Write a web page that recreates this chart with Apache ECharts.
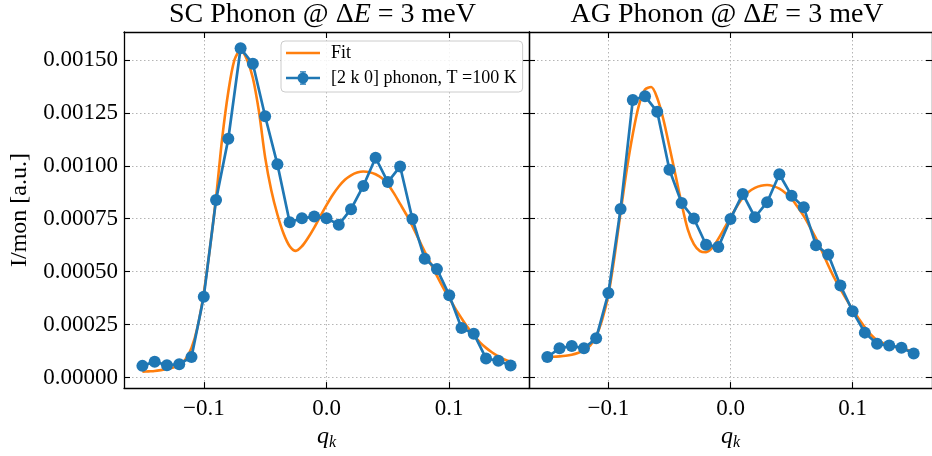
<!DOCTYPE html>
<html><head><meta charset="utf-8">
<script src="https://cdn.jsdelivr.net/npm/echarts@6/dist/echarts.min.js"></script>
<style>html,body{margin:0;padding:0;background:#fff}#c{width:932px;height:456px}</style>
</head><body><div id="c"></div>
<script>
// ---------- data ----------
const qPoints = [-0.15,-0.14,-0.13,-0.12,-0.11,-0.10,-0.09,-0.08,-0.07,-0.06,-0.05,-0.04,-0.03,-0.02,-0.01,0.00,
                 0.01,0.02,0.03,0.04,0.05,0.06,0.07,0.08,0.09,0.10,0.11,0.12,0.13,0.14,0.15];
const scValues = [0.000055,0.000075,0.000058,0.000063,0.000097,0.000382,0.000839,0.001128,0.001555,0.001482,0.001234,
                  0.001007,0.000733,0.000752,0.000760,0.000752,0.000722,0.000795,0.000905,0.001038,0.000923,0.000997,
                  0.000749,0.000561,0.000512,0.000389,0.000234,0.000207,0.000090,0.000079,0.000057];
const agValues = [0.000097,0.000138,0.000149,0.000138,0.000185,0.000399,0.000796,0.001311,0.001329,0.001255,0.000981,
                  0.000824,0.000751,0.000627,0.000616,0.000749,0.000867,0.000757,0.000828,0.000960,0.000859,0.000804,
                  0.000625,0.000581,0.000435,0.000313,0.000212,0.000159,0.000151,0.000141,0.000113];
// fit curves read every 0.005 in q
const fitQ = [-0.15,-0.145,-0.14,-0.135,-0.13,-0.125,-0.12,-0.115,-0.11,-0.105,-0.10,-0.095,-0.09,-0.085,-0.08,-0.075,
              -0.07,-0.065,-0.06,-0.055,-0.05,-0.045,-0.04,-0.035,-0.03,-0.025,-0.02,-0.015,-0.01,-0.005,0.0,
              0.005,0.01,0.015,0.02,0.025,0.03,0.035,0.04,0.045,0.05,0.055,0.06,0.065,0.07,0.075,0.08,
              0.085,0.09,0.095,0.10,0.105,0.11,0.115,0.12,0.125,0.13,0.135,0.14,0.145,0.15];
const scFitValues = [0.000027,0.000029,0.000031,0.000035,0.000040,0.000047,0.000058,0.000085,0.000140,0.000240,0.000400,
                     0.000610,0.000850,0.001130,0.001350,0.001500,0.001545,0.001505,0.001415,0.001255,0.001040,0.000885,
                     0.000770,0.000680,0.000620,0.000598,0.000620,0.000660,0.000708,0.000762,0.000814,
                     0.000862,0.000902,0.000934,0.000955,0.000968,0.000973,0.000970,0.000960,0.000942,0.000912,0.000870,
                     0.000820,0.000770,0.000715,0.000655,0.000595,
                     0.000537,0.000480,0.000425,0.000375,0.000325,0.000280,0.000237,0.000200,0.000166,0.000140,0.000118,
                     0.000100,0.000085,0.000074];
const agFitValues = [0.000097,0.000098,0.000100,0.000103,0.000108,0.000116,0.000128,0.000150,0.000195,0.000275,0.000390,
                     0.000570,0.000780,0.000980,0.001150,0.001285,0.001360,0.001372,0.001320,0.001220,0.001090,0.000955,
                     0.000820,0.000700,0.000630,0.000597,0.000592,0.000612,0.000655,0.000705,0.000757,
                     0.000806,0.000848,0.000878,0.000896,0.000906,0.000909,0.000904,0.000892,0.000872,0.000845,0.000805,
                     0.000762,0.000712,0.000657,0.000595,0.000530,
                     0.000470,0.000418,0.000368,0.000320,0.000278,0.000237,0.000202,0.000176,0.000162,0.000152,0.000144,
                     0.000137,0.000130,0.000122];
const xTicks = [-0.1, 0.0, 0.1];
const yTicks = [0, 0.00025, 0.0005, 0.00075, 0.001, 0.00125, 0.0015];
const panelTitles = ['SC Phonon @ ', 'AG Phonon @ '];
const fitName = 'Fit';
const dataName = '[2 k 0] phonon, T =100 K';

// ---------- chart ----------
const FONT = "'Liberation Serif', 'Times New Roman', serif";
const pairs = (xs, ys) => xs.map((x, i) => [x, ys[i]]);
const xFmt = v => (v < -1e-9 ? '\u2212' : '') + Math.abs(v).toFixed(1);
const yFmt = v => v.toFixed(5);
const grids = [
  {left: 124, top: 32, width: 405, height: 358},
  {left: 529, top: 32, width: 404, height: 358}
];
const XMIN = -0.165, XMAX = 0.165, YMIN = -0.00005, YMAX = 0.001632;
const frame = {show: true, onZero: false, lineStyle: {color: '#000', width: 1.3}};
const tick = vals => ({show: true, inside: true, length: 6, customValues: vals, lineStyle: {color: '#000', width: 1.1}});
const split = {show: true, lineStyle: {type: [1.5, 2.5], color: '#b5b5b5', width: 1}};

const xAxes = [], yAxes = [];
[0, 1].forEach(g => {
  xAxes.push({type: 'value', gridIndex: g, position: 'bottom', min: XMIN, max: XMAX,
    axisLine: frame, axisTick: tick(xTicks), splitLine: split,
    axisLabel: {customValues: xTicks, formatter: xFmt, margin: 9, fontFamily: FONT, fontSize: 23, color: '#000'},
    name: '{q|q}{k|k}', nameLocation: 'middle', nameGap: 34,
    nameTextStyle: {rich: {
      q: {fontFamily: FONT, fontSize: 24, fontStyle: 'italic', color: '#000'},
      k: {fontFamily: FONT, fontSize: 16, fontStyle: 'italic', color: '#000', padding: [12, 0, 0, 0]}
    }}
  });
  xAxes.push({type: 'value', gridIndex: g, position: 'top', min: XMIN, max: XMAX,
    axisLine: frame, axisTick: tick(xTicks), splitLine: {show: false}, axisLabel: {show: false}});
  yAxes.push({type: 'value', gridIndex: g, position: 'left', min: YMIN, max: YMAX,
    axisLine: frame, axisTick: tick(yTicks), splitLine: split,
    axisLabel: {show: g === 0, customValues: yTicks, formatter: yFmt, margin: 6, fontFamily: FONT, fontSize: 23, color: '#000'},
    name: g === 0 ? 'I/mon [a.u.]' : '', nameLocation: 'middle', nameGap: 92, nameRotate: 90,
    nameTextStyle: {fontFamily: FONT, fontSize: 24, color: '#000'}
  });
  yAxes.push({type: 'value', gridIndex: g, position: 'right', min: YMIN, max: YMAX,
    axisLine: frame, axisTick: tick(yTicks), splitLine: {show: false}, axisLabel: {show: false}});
});

const series = [];
[[scFitValues, scValues], [agFitValues, agValues]].forEach((d, g) => {
  series.push({type: 'line', name: fitName, xAxisIndex: 2 * g, yAxisIndex: 2 * g,
    data: pairs(fitQ, d[0]), symbol: 'none', smooth: 0.3, z: 3,
    color: '#ff7f0e', lineStyle: {color: '#ff7f0e', width: 2.6}});
  series.push({type: 'line', name: dataName, xAxisIndex: 2 * g, yAxisIndex: 2 * g,
    data: pairs(qPoints, d[1]), symbol: 'circle', symbolSize: 12, z: 4,
    color: '#1f77b4', itemStyle: {color: '#1f77b4'}, lineStyle: {color: '#1f77b4', width: 2.7}});
});

const lineIcon = 'path://M0,0 H34 V2.4 H0 Z';
const errIcon = 'path://M0,6 H34 V8.4 H0 Z M11.5,7.2 A5.5,5.5 0 1 1 22.5,7.2 A5.5,5.5 0 1 1 11.5,7.2 Z ' +
  'M16.4,1 H17.6 V13.4 H16.4 Z M14,0.4 H20 V1.6 H14 Z M14,12.8 H20 V14 H14 Z';

const option = {
  animation: false,
  backgroundColor: '#fff',
  title: [0, 1].map(g => ({
    text: '{n|' + panelTitles[g] + '\u0394}{i|E}{n| = 3 meV}',
    left: grids[g].left + grids[g].width / 2 - 4, top: 1, padding: 0, textAlign: 'center',
    textStyle: {fontWeight: 'normal', rich: {
      n: {fontFamily: FONT, fontSize: 28, fontWeight: 'normal', color: '#000'},
      i: {fontFamily: FONT, fontSize: 28, fontWeight: 'normal', fontStyle: 'italic', color: '#000'}
    }}
  })),
  legend: {
    orient: 'vertical', left: 281, top: 41,
    data: [{name: fitName, icon: lineIcon}, {name: dataName, icon: errIcon}],
    itemWidth: 34, itemHeight: 14, itemGap: 7, symbolKeepAspect: true,
    padding: [3, 6, 5, 5],
    backgroundColor: 'rgba(255,255,255,0.85)', borderColor: '#cccccc', borderWidth: 1, borderRadius: 4,
    textStyle: {fontFamily: FONT, fontSize: 18, color: '#000', padding: [0, 0, 0, 6]}
  },
  grid: grids,
  xAxis: xAxes,
  yAxis: yAxes,
  series: series
};
const chart = echarts.init(document.getElementById('c'), null, {renderer: 'canvas'});
chart.setOption(option);
</script>
</body></html>
